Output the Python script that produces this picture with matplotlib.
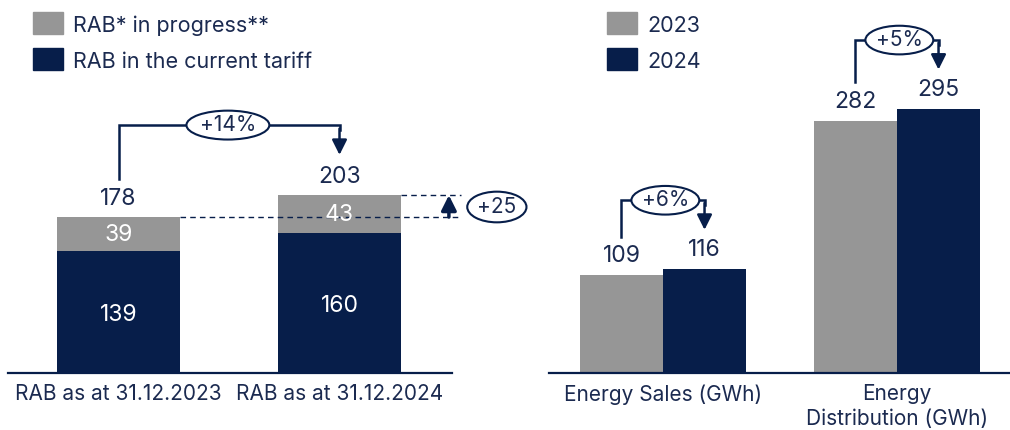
import matplotlib

matplotlib.use("Agg")
import matplotlib.pyplot as plt
from matplotlib.patches import Ellipse

GREY = "#969696"
NAVY = "#071e4a"
TEXT = "#1b2a50"

plt.rcParams["font.family"] = ["Inter", "DejaVu Sans"]

# left panel: RAB
rab_labels = ["RAB as at 31.12.2023", "RAB as at 31.12.2024"]
rab_current = [139, 160]
rab_progress = [39, 43]
rab_total = [178, 203]
rab_growth = "+14%"
rab_delta = "+25"

# right panel: energy
energy_labels = ["Energy Sales (GWh)", "Energy\nDistribution (GWh)"]
energy_2023 = [109, 282]
energy_2024 = [116, 295]
energy_growth = ["+6%", "+5%"]

W, H = 1010, 430
fig = plt.figure(figsize=(W / 100, H / 100), dpi=100)

ARROW = "-|>,head_width=0.45,head_length=0.9"


def px_axes(x0, x1, y_base):
    # axes box in pixel coords, from baseline up to top of figure
    return fig.add_axes([x0 / W, (H - y_base) / H, (x1 - x0) / W, y_base / H])


def style(ax):
    for s in ["top", "right", "left"]:
        ax.spines[s].set_visible(False)
    ax.spines["bottom"].set_color(NAVY)
    ax.spines["bottom"].set_linewidth(1.6)
    ax.set_yticks([])
    ax.tick_params(axis="x", length=0, pad=8, labelsize=15, colors=TEXT)


def pill(ax, x, y, w, h, label):
    ax.add_patch(Ellipse((x, y), w, h, fc="white", ec=NAVY, lw=1.5,
                         clip_on=False, zorder=5))
    ax.text(x, y, label, ha="center", va="center", fontsize=15,
            color=TEXT, zorder=6)


def bracket(ax, x0, y0, x1, y1, ytop, label, ew, eh, ex):
    ax.plot([x0, x0, x1, x1], [y0, ytop, ytop, y1 + 28], color=NAVY,
            lw=1.8, clip_on=False, solid_joinstyle="miter")
    ax.annotate("", xy=(x1, y1), xytext=(x1, y1 + 30),
                arrowprops=dict(arrowstyle=ARROW, color=NAVY, lw=1.8,
                                shrinkA=0, shrinkB=0))
    pill(ax, ex, ytop, ew, eh, label)


# ---- left panel ----
ax1 = px_axes(8, 452, 373)
bw = 0.555
xs = [0, 1]
ax1.bar(xs, rab_current, bw, color=NAVY)
ax1.bar(xs, rab_progress, bw, bottom=rab_current, color=GREY)
ax1.set_xlim(-0.5, 1.509)
ax1.set_ylim(0, 373 / 0.876)
style(ax1)
ax1.set_xticks(xs)
ax1.set_xticklabels(rab_labels)

for x, c, p, t in zip(xs, rab_current, rab_progress, rab_total):
    ax1.text(x, c / 2 - 3, str(c), ha="center", va="center", color="white",
             fontsize=16.5)
    ax1.text(x, c + p / 2 - 1, str(p), ha="center", va="center",
             color="white", fontsize=16.5, zorder=4)
    ax1.text(x, t + 8, str(t), ha="center", va="bottom", color=TEXT,
             fontsize=16.5)

bracket(ax1, xs[0], rab_total[0] + 44, xs[1], rab_total[1] + 46,
        rab_total[1] + 80, rab_growth, 0.375, 33, ex=0.495)

# dashed guides for the increase
xr = 1.55
ax1.plot([xs[0] + bw / 2, xr], [rab_total[0]] * 2, color=NAVY, lw=1,
         ls=(0, (4, 3)), clip_on=False, zorder=3)
ax1.plot([xs[1] + bw / 2, xr], [rab_total[1]] * 2, color=NAVY, lw=1,
         ls=(0, (4, 3)), clip_on=False, zorder=3)
ax1.annotate("", xy=(1.495, rab_total[1]), xytext=(1.495, rab_total[0]),
             arrowprops=dict(arrowstyle="-|>,head_width=0.45,head_length=0.9",
                             color=NAVY, lw=2.5, shrinkA=0, shrinkB=0),
             annotation_clip=False)
ym = (rab_total[0] + rab_total[1]) / 2
pill(ax1, 1.712, ym - 1, 0.268, 35, rab_delta)

# ---- right panel ----
ax2 = px_axes(549, 1010, 373)
ew_ = 0.355
gx = [0, 1]
ax2.bar([g - ew_ / 2 for g in gx], energy_2023, ew_, color=GREY)
ax2.bar([g + ew_ / 2 for g in gx], energy_2024, ew_, color=NAVY)
ax2.set_xlim((549 - 663) / 234, (1010 - 663) / 234)
ax2.set_ylim(0, 373 / 0.895)
style(ax2)
ax2.set_xticks(gx)
ax2.set_xticklabels(energy_labels, linespacing=1.32)

for g, a, b, lab in zip(gx, energy_2023, energy_2024, energy_growth):
    ax2.text(g - ew_ / 2, a + 9, str(a), ha="center", va="bottom",
             color=TEXT, fontsize=16.5)
    ax2.text(g + ew_ / 2, b + 9, str(b), ha="center", va="bottom",
             color=TEXT, fontsize=16.5)
    bracket(ax2, g - ew_ / 2, a + 43, g + ew_ / 2, b + 44, b + 77, lab,
            0.29, 32, ex=g + 0.01)


# ---- legends ----
def legend_item(x, y, color, label):
    fig.patches.append(plt.Rectangle((x / W, (H - y - 22) / H), 30 / W, 22 / H,
                                     transform=fig.transFigure, color=color))
    fig.text((x + 40) / W, (H - y - 12) / H, label, ha="left",
             va="center_baseline", fontsize=15.5, color=TEXT)


legend_item(33, 12, GREY, "RAB* in progress**")
legend_item(33, 48, NAVY, "RAB in the current tariff")
legend_item(607, 12, GREY, "2023")
legend_item(607, 48, NAVY, "2024")

fig.savefig("out.png", dpi=100)
